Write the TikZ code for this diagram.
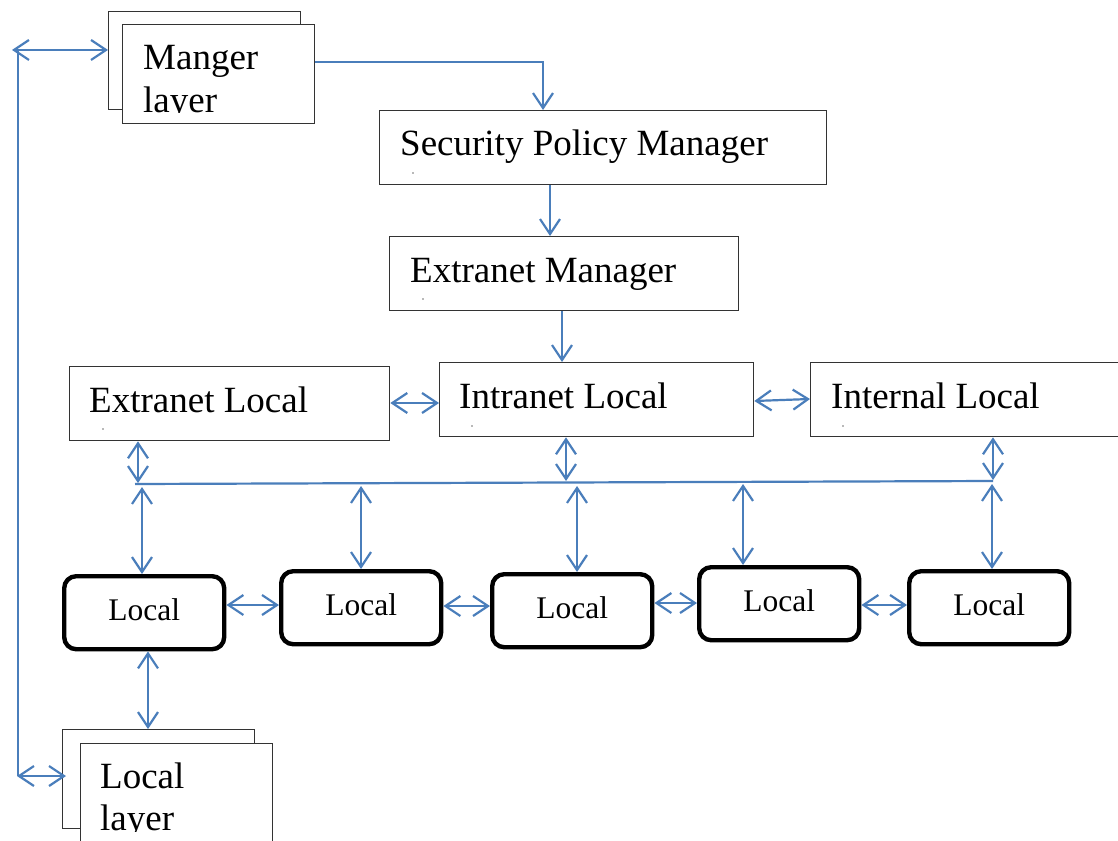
\documentclass[tikz,border=0pt]{standalone}
\usepackage{fontspec}
\setmainfont{Liberation Serif}
\usetikzlibrary{arrows.meta}
\definecolor{linkblue}{RGB}{74,126,187}
\tikzset{
  box/.style={draw=black!80, line width=1.3pt, fill=white, rectangle, inner sep=0pt, anchor=north west},
  localbox/.style={draw=black, line width=4.4pt, rounded corners=12pt, fill=white, inner sep=0pt,
    minimum width=160pt, minimum height=73pt, anchor=north west},
  bigtxt/.style={font=\fontsize{37}{40}\selectfont, anchor=base west, inner sep=0pt},
  localtxt/.style={font=\fontsize{31.5}{36}\selectfont, inner sep=0pt},
  conn/.style={draw=linkblue, line width=2.2pt},
  speck/.style={fill=black!55, draw=none},
}
\begin{document}
\begin{tikzpicture}[x=1pt, y=-1pt, >={Straight Barb[length=15pt,width=20pt]}]
  \useasboundingbox[fill=white] (0,0) rectangle (1118,840);

  % manager layer stack
  \node[box, minimum width=192pt, minimum height=98pt] (mback) at (108,11) {};
  \node[box, minimum width=192pt, minimum height=99pt] (mfront) at (122,24) {};
  \begin{scope}
    \clip (122,24) rectangle (314,113);
    \node[bigtxt] (tmgr1) at (143,70) {Manger};
    \node[bigtxt] (tmgr2) at (143,112.5) {layer};
  \end{scope}

  % management chain
  \node[box, minimum width=447pt, minimum height=74pt] (spm) at (379,110) {};
  \node[bigtxt] (tspm) at (400,155) {Security Policy Manager};
  \node[box, minimum width=349pt, minimum height=74pt] (em) at (389,236) {};
  \node[bigtxt] (tem) at (410,282) {Extranet Manager};

  % local managers row
  \node[box, minimum width=320pt, minimum height=74pt] (el) at (69,366) {};
  \node[bigtxt] (tel) at (89,412) {Extranet Local};
  \node[box, minimum width=314pt, minimum height=74pt] (il) at (439,362) {};
  \node[bigtxt] (til) at (459,408) {Intranet Local};
  \node[box, minimum width=320pt, minimum height=74pt] (nl) at (810,362) {};
  \node[bigtxt] (tnl) at (831,408) {Internal Local};

  % small paragraph specks
  \fill[speck] (413,173) circle (0.8);
  \fill[speck] (423,299) circle (0.8);
  \fill[speck] (103,429) circle (0.8);
  \fill[speck] (472,426) circle (0.8);
  \fill[speck] (843,426) circle (0.8);

  % local nodes
  \node[localbox] (l1) at (62,574) {};
  \node[localbox] (l2) at (279,569) {};
  \node[localbox] (l3) at (490,572) {};
  \node[localbox] (l4) at (697,565) {};
  \node[localbox] (l5) at (907,569) {};
  \foreach \n in {l1,l2,l3,l4,l5} {
    \node[localtxt] at ([yshift=3pt]\n.center) {Local};
  }

  % local layer stack
  \node[box, minimum width=192pt, minimum height=99pt] (lback) at (62,729) {};
  \node[box, minimum width=192pt, minimum height=110pt] (lfront) at (80,743) {};
  \begin{scope}
    \clip (80,743) rectangle (272,831);
    \node[bigtxt] (tloc1) at (100,788) {Local};
    \node[bigtxt] (tloc2) at (100,830.5) {layer};
  \end{scope}

  % bus
  \coordinate (busw) at (135,484);
  \coordinate (buse) at (993,481);
  \draw[conn] (busw) -- (buse);

  % left return line
  \coordinate (tl) at (12,50);
  \coordinate (bl) at (17,776);
  \draw[conn, <->] (tl) -- (tl -| mback.west);
  \draw[conn] (18,50) -- (18,776);
  \draw[conn, <->] (bl) -- (66,776);

  % top-down chain
  \draw[conn, ->] (mfront.east |- 0,62) -| (543,0 |- spm.north);
  \draw[conn, ->] (550,0 |- spm.south) -- (550,0 |- em.north);
  \draw[conn, ->] (562,0 |- em.south) -- (562,0 |- il.north);

  % between local managers
  \draw[conn, <->] (el.east |- 0,403) -- (il.west |- 0,403);
  \draw[conn, <->] (il.east |- 0,401) -- (nl.west |- 0,399);

  % managers to bus
  \draw[conn, <->] (138,0 |- el.south) -- (138,483);
  \draw[conn, <->] (566,0 |- il.south) -- (566,481);
  \draw[conn, <->] (993,0 |- nl.south) -- (993,480);

  % bus to local nodes
  \draw[conn, <->] (142,487) -- (142,0 |- l1.north);
  \draw[conn, <->] (361,486) -- (361,0 |- l2.north);
  \draw[conn, <->] (577,486) -- (577,0 |- l3.north);
  \draw[conn, <->] (743,484) -- (743,0 |- l4.north);
  \draw[conn, <->] (992,484) -- (992,0 |- l5.north);

  % between local nodes
  \draw[conn, <->] (l1.east |- 0,605) -- (l2.west |- 0,605);
  \draw[conn, <->] (l2.east |- 0,606) -- (l3.west |- 0,606);
  \draw[conn, <->] (l3.east |- 0,603) -- (l4.west |- 0,603);
  \draw[conn, <->] (l4.east |- 0,605) -- (l5.west |- 0,605);

  % local node to local layer
  \draw[conn, <->] (148,0 |- l1.south) -- (148,0 |- lback.north);
\end{tikzpicture}
\end{document}
